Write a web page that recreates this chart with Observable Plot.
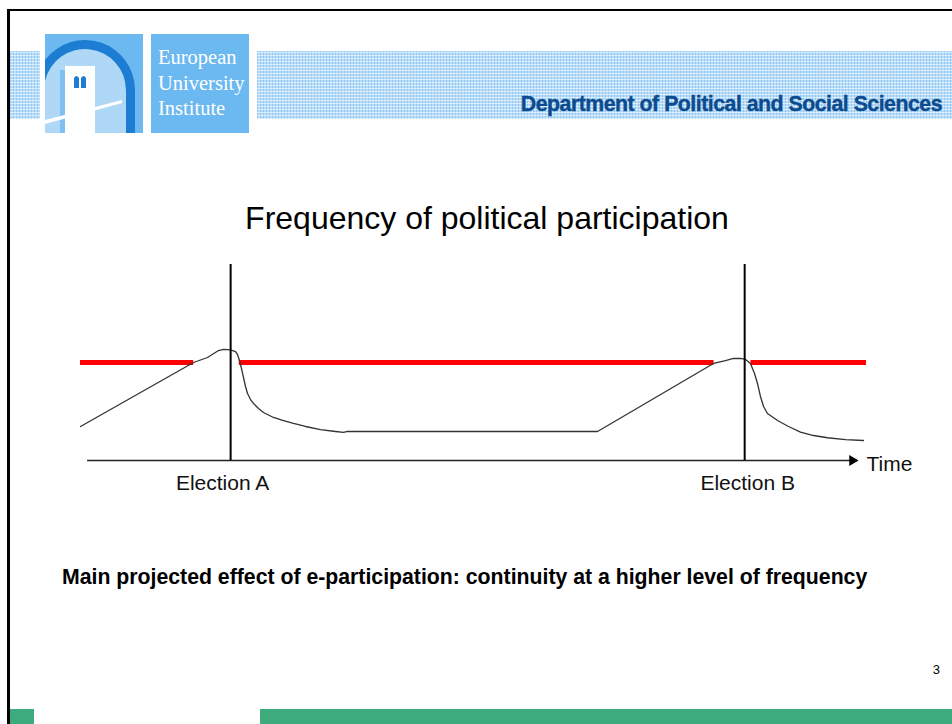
<!DOCTYPE html>
<html><head><meta charset="utf-8">
<script src="https://cdn.jsdelivr.net/npm/d3@7"></script>
<script src="https://cdn.jsdelivr.net/npm/@observablehq/plot@0.6"></script>
<style>
html,body{margin:0;padding:0;background:#fff;}
body{width:952px;height:724px;position:relative;overflow:hidden;font-family:"Liberation Sans",Arial,Helvetica,sans-serif;}
.abs{position:absolute;white-space:nowrap;line-height:1;}
.band{position:absolute;top:51px;height:68px;background-color:#b9dcf8;
 background-image:repeating-linear-gradient(0deg,rgba(255,255,255,.55) 0 1px,transparent 1px 3px),
 repeating-linear-gradient(90deg,rgba(70,160,235,.35) 0 1px,transparent 1px 3px);}
.serif{font-family:"Liberation Serif","Times New Roman",serif;color:#fff;font-size:20.5px;}
</style></head><body>
<div class="abs" style="left:8px;top:9px;width:944px;height:2px;background:#000"></div>
<div class="abs" style="left:7px;top:9px;width:2.5px;height:715px;background:#000"></div>
<div class="band" style="left:10px;width:30px"></div>
<div class="band" style="left:257px;width:695px"></div>
<svg class="abs" width="98" height="99" style="left:45px;top:34px" viewBox="0 0 98 99">
 <rect width="98" height="99" fill="#6cb8f0"/>
 <path d="M0,47 A41,41 0 0,1 81,56 L81,99 L0,99 Z" fill="#aed8f6"/>
 <path d="M0,26 A50,50 0 0,1 90,56 L90,99 L81,99 L81,56 A41,41 0 0,0 0,47 Z" fill="#1c7dd2"/>
 <rect x="15" y="36" width="6" height="63" fill="#7fc0f0"/>
 <rect x="20" y="32" width="30" height="67" fill="#fff"/>
 <path d="M29,54 L29,44 Q31.5,40 34,44 L34,54 Z M36,54 L36,44 Q38.5,40 41,44 L41,54 Z" fill="#1c7dd2"/>
 <path d="M0,86 L77,66 L77,69 L0,90 Z" fill="#fff"/>
</svg>
<div class="abs" style="left:151px;top:34px;width:98px;height:99px;background:#6cb8f0"></div>
<div class="abs serif" style="left:158px;top:47px">European</div>
<div class="abs serif" style="left:158px;top:73px">University</div>
<div class="abs serif" style="left:158px;top:98px">Institute</div>
<div class="abs" style="right:10px;top:94px;font-size:21.3px;font-weight:900;color:#0c4b8e;letter-spacing:-0.5px;-webkit-text-stroke:0.4px #0c4b8e">Department of Political and Social Sciences</div>
<div class="abs" style="left:0;width:974px;text-align:center;top:202px;font-size:32px;color:#000">Frequency of political participation</div>
<div id="chart" class="abs" style="left:0;top:250px"></div>
<div class="abs" style="left:62px;top:567px;font-size:21.25px;font-weight:bold;color:#000">Main projected effect of e-participation: continuity at a higher level of frequency</div>
<div class="abs" style="right:12px;top:663px;font-size:13px;color:#000">3</div>
<div class="abs" style="left:10px;top:709px;width:24px;height:15px;background:#3dab7b"></div>
<div class="abs" style="left:260px;top:709px;width:692px;height:15px;background:#3dab7b"></div>
<script>
// Participation curve (time 0..100, frequency 0..20)
const curveTime = [0, 14.38, 16.16, 17.56, 18.19, 19.08, 19.72, 19.97, 20.23, 20.48, 20.74, 20.99, 21.25, 21.63, 22.01, 22.65, 23.28, 24.55, 25.83, 27.1, 28.63, 30.53, 32.44, 33.46, 33.97, 65.78, 80.53, 82.06, 83.08, 83.97, 84.61, 85.24, 85.75, 86.13, 86.51, 86.9, 87.4, 88.68, 90.08, 91.6, 93.26, 95.04, 97.33, 99.62];
const curveFreq = [3.47, 10.0, 10.51, 11.22, 11.33, 11.28, 11.12, 10.82, 10.2, 9.39, 8.47, 7.55, 6.84, 6.22, 5.82, 5.31, 4.9, 4.39, 4.08, 3.78, 3.47, 3.16, 2.96, 2.86, 2.96, 2.96, 9.9, 10.2, 10.41, 10.41, 10.31, 9.9, 8.88, 7.86, 6.53, 5.51, 4.8, 4.08, 3.47, 2.89, 2.55, 2.32, 2.14, 2.04];
// Elections
const electionNames = ["Election A", "Election B"];
const electionTime = [19.1, 84.5];
// Projected continuous level (red segments)
const projectedLevel = 10;
const projectedStart = [0, 20.2, 85.3];
const projectedEnd = [14.4, 80.6, 100];
// Time axis
const axisLabel = "Time";
const axisStart = 0.9;
const axisEnd = 98.2;
const labelTime = 100;

const curve = curveTime.map((t, i) => ({t, f: curveFreq[i]}));
const elections = electionNames.map((name, i) => ({name, t: electionTime[i]}));
const segments = projectedStart.map((s, i) => ({s, e: projectedEnd[i], f: projectedLevel}));
const axisData = [{s: axisStart, e: axisEnd, f: 0}];
const tipData = [{t: axisEnd, f: 0}];
const labelData = [{t: labelTime, f: 0, name: axisLabel}];

const chart = Plot.plot({
  width: 952, height: 260, margin: 0,
  style: {fontFamily: '"Liberation Sans", Arial, sans-serif', background: "transparent", overflow: "visible"},
  x: {domain: [0, 100], range: [80, 866], axis: null},
  y: {domain: [0, 20], range: [210, 14], axis: null},
  marks: [
    Plot.ruleY(axisData, {y: "f", x1: "s", x2: "e", stroke: "#222", strokeWidth: 1.5}),
    Plot.dot(tipData, {x: "t", y: "f", symbol: "triangle", rotate: 90, r: 4, fill: "#000", stroke: "none"}),
    Plot.ruleY(segments, {y: "f", x1: "s", x2: "e", stroke: "#ff0000", strokeWidth: 5}),
    Plot.line(curve, {x: "t", y: "f", stroke: "#333", strokeWidth: 1.3, curve: "linear", strokeLinejoin: "round"}),
    Plot.ruleX(elections, {x: "t", y1: 0, y2: 20, stroke: "#000", strokeWidth: 2}),
    Plot.text(elections.filter(d => d.name === "Election A"), {x: "t", y: () => 0, text: "name", dy: 29, dx: -8, lineAnchor: "bottom", fontSize: 21, fill: "#111"}),
    Plot.text(elections.filter(d => d.name === "Election B"), {x: "t", y: () => 0, text: "name", dy: 29, dx: 3, lineAnchor: "bottom", fontSize: 21, fill: "#111"}),
    Plot.text(labelData, {x: "t", y: "f", text: "name", dy: 10, lineAnchor: "bottom", textAnchor: "start", fontSize: 21, fill: "#111"})
  ]
});
document.getElementById("chart").appendChild(chart);
</script>
</body></html>
